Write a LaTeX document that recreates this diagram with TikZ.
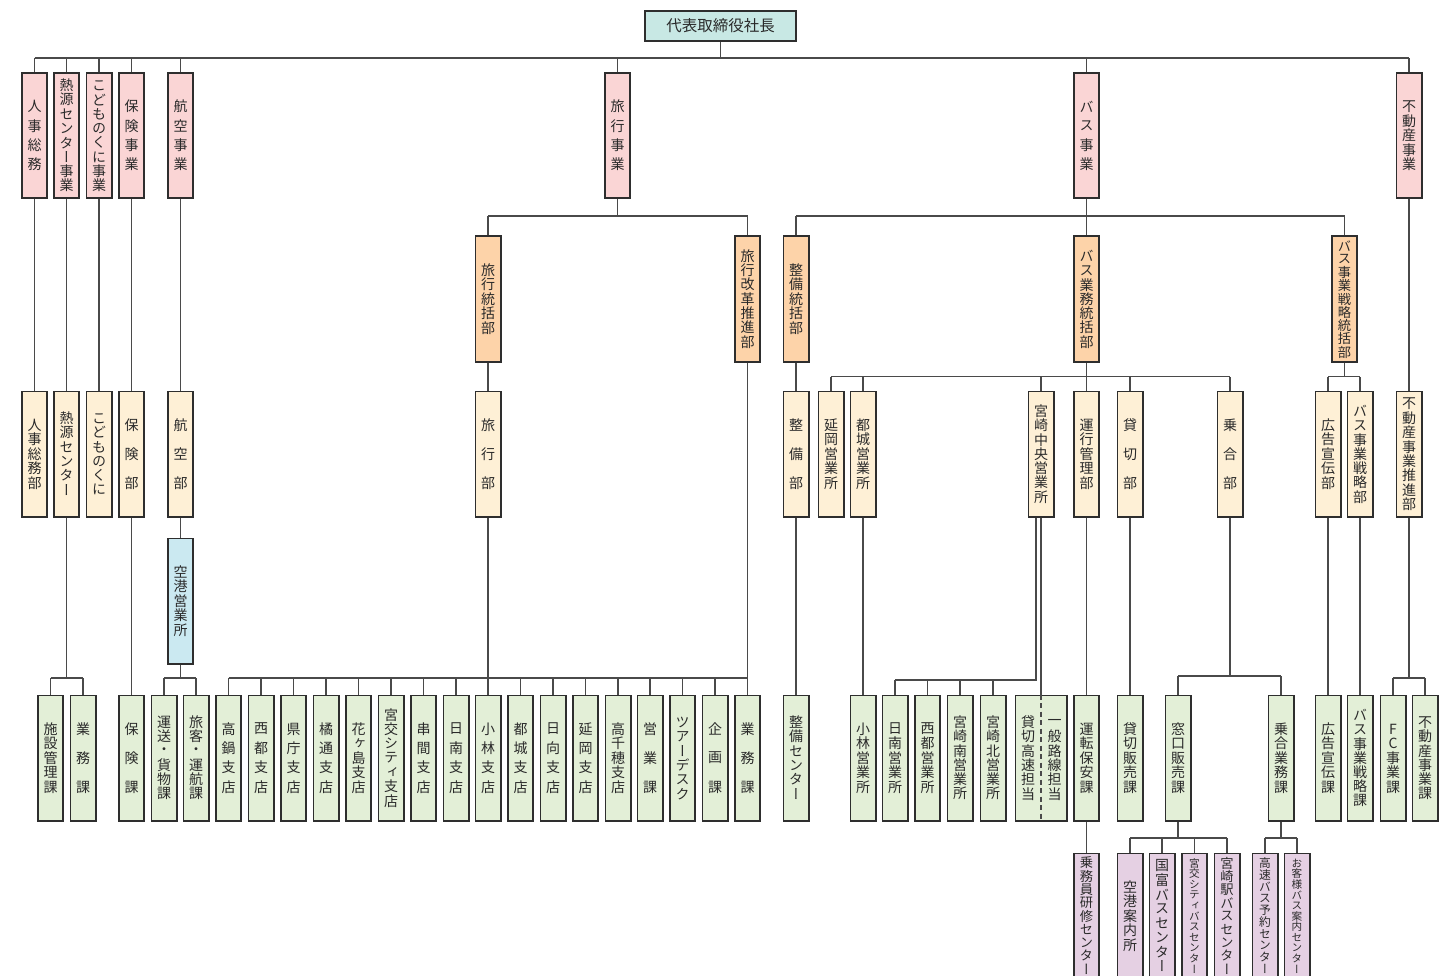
\documentclass[tikz,border=0pt]{standalone}
\usepackage{fontspec}
\newfontfamily\jpv[RawFeature=+vert]{Noto Sans CJK JP}
\newfontfamily\jph{Noto Sans CJK JP}
\definecolor{bdr}{HTML}{2E2E2E}
\definecolor{lnc}{HTML}{4A4A4A}
\definecolor{txt}{HTML}{2A2A2A}
\definecolor{ceoc}{HTML}{C8E8E4}
\definecolor{pinkc}{HTML}{FAD5D5}
\definecolor{orc}{HTML}{FDD3A9}
\definecolor{begc}{HTML}{FEF0D6}
\definecolor{grc}{HTML}{E3EFD7}
\definecolor{blc}{HTML}{CBE9F1}
\definecolor{puc}{HTML}{E5D0E3}
\ExplSyntaxOn
\tl_new:N \l_vt_tl
\int_new:N \l_vt_int
\fp_new:N \l_vt_p_fp
\fp_new:N \l_vt_f_fp
\dim_new:N \l_vt_p_dim
\NewDocumentCommand \vt { m }
  {
    \tl_set:Nx \l_vt_tl {#1}
    \int_set:Nn \l_vt_int { \tl_count:N \l_vt_tl }
    \fp_set:Nn \l_vt_p_fp { min( max(14.3, 58/(\l_vt_int - 1)), 106/(\l_vt_int - 1) ) }
    \fp_set:Nn \l_vt_f_fp { min(14, \l_vt_p_fp) }
    \dim_set:Nn \l_vt_p_dim { \fp_to_dim:N \l_vt_p_fp }
    \jpv \fontsize{\fp_use:N \l_vt_f_fp}{\fp_use:N \l_vt_p_fp}\selectfont
    \vbox:n
      {
        \offinterlineskip
        \tl_map_inline:Nn \l_vt_tl
          {
            \hbox_to_wd:nn {20pt} { \hss \vbox_to_ht:nn { \l_vt_p_dim } { \vss \hbox:n {##1} \vss } \hss }
          }
      }
  }
\ExplSyntaxOff
\begin{document}
\begin{tikzpicture}[x=1pt,y=-1pt,
  bx/.style={draw=bdr, line width=1.6pt, minimum width=25.4pt, minimum height=125.4pt, inner sep=0pt, text=txt},
  pk/.style={bx, fill=pinkc},
  orb/.style={bx, fill=orc},
  bg/.style={bx, fill=begc},
  gr/.style={bx, fill=grc},
  bl/.style={bx, fill=blc},
  pu/.style={bx, fill=puc},
  tx/.style={inner sep=0pt, text=txt},
  ln/.style={draw=lnc, line width=1.3pt}]
\useasboundingbox (0,0) rectangle (1443,976);
\clip (0,0) rectangle (1443,976);

% ---- CEO
\node[draw=bdr, line width=1.6pt, fill=ceoc, minimum width=151.4pt, minimum height=30.4pt,
      inner sep=0pt, text=txt, font=\jph\fontsize{15.5}{18}\selectfont] (ceo) at (720.5,26) {代表取締役社長};

% ---- Row 1
\node[pk] (a1) at (34.5,135.5) {\vt{人事総務}};
\node[pk] (a2) at (66.5,135.5) {\vt{熱源センター事業}};
\node[pk] (a3) at (99,135.5) {\vt{こどものくに事業}};
\node[pk] (a4) at (131.5,135.5) {\vt{保険事業}};
\node[pk] (a5) at (180.5,135.5) {\vt{航空事業}};
\node[pk] (a6) at (617.5,135.5) {\vt{旅行事業}};
\node[pk] (a7) at (1086.5,135.5) {\vt{バス事業}};
\node[pk] (a8) at (1409,135.5) {\vt{不動産事業}};

% ---- Row 2
\node[orb] (b1) at (488,299) {\vt{旅行統括部}};
\node[orb] (b2) at (747.5,299) {\vt{旅行改革推進部}};
\node[orb] (b3) at (796,299) {\vt{整備統括部}};
\node[orb] (b4) at (1086.5,299) {\vt{バス業務統括部}};
\node[orb] (b5) at (1344.5,299) {\vt{バス事業戦略統括部}};

% ---- Row 3
\node[bg] (c1) at (34.5,454) {\vt{人事総務部}};
\node[bg] (c2) at (66.5,454) {\vt{熱源センター}};
\node[bg] (c3) at (99,454) {\vt{こどものくに}};
\node[bg] (c4) at (131.5,454) {\vt{保険部}};
\node[bg] (c5) at (180.5,454) {\vt{航空部}};
\node[bg] (c6) at (488,454) {\vt{旅行部}};
\node[bg] (c7) at (796,454) {\vt{整備部}};
\node[bg] (c8) at (831,454) {\vt{延岡営業所}};
\node[bg] (c9) at (863,454) {\vt{都城営業所}};
\node[bg] (c10) at (1041,454) {\vt{宮崎中央営業所}};
\node[bg] (c11) at (1086.5,454) {\vt{運行管理部}};
\node[bg] (c12) at (1130,454) {\vt{貸切部}};
\node[bg] (c13) at (1230,454) {\vt{乗合部}};
\node[bg] (c14) at (1328,454) {\vt{広告宣伝部}};
\node[bg] (c15) at (1360,454) {\vt{バス事業戦略部}};
\node[bg] (c16) at (1409,454) {\vt{不動産事業推進部}};

% ---- blue
\node[bl] (d1) at (180.5,601) {\vt{空港営業所}};

% ---- Row 4
\node[gr] (e1) at (50.5,758) {\vt{施設管理課}};
\node[gr] (e2) at (83,758) {\vt{業務課}};
\node[gr] (e3) at (131.5,758) {\vt{保険課}};
\node[gr] (e4) at (164,758) {\vt{運送・貨物課}};
\node[gr] (e5) at (196,758) {\vt{旅客・運航課}};
\foreach \x/\s [count=\i] in {228.5/高鍋支店, 261/西都支店, 293.5/県庁支店, 326/橘通支店,
   358.5/花ヶ島支店, 391/宮交シティ支店, 423.5/串間支店, 456/日南支店, 488/小林支店,
   520.5/都城支店, 553/日向支店, 585.5/延岡支店, 618/高千穂支店, 650/営業課,
   682.5/ツアーデスク, 715/企画課, 747.5/業務課}
  \node[gr] (t\i) at (\x,758) {\vt{\s}};
\node[gr] (f1) at (796,758) {\vt{整備センター}};
\node[gr] (g1) at (863,758) {\vt{小林営業所}};
\node[gr] (g2) at (895,758) {\vt{日南営業所}};
\node[gr] (g3) at (927.5,758) {\vt{西都営業所}};
\node[gr] (g4) at (960,758) {\vt{宮崎南営業所}};
\node[gr] (g5) at (993,758) {\vt{宮崎北営業所}};
\node[gr, minimum width=51.4pt] (g6) at (1041,758) {};
\node[tx] at (1028,758) {\vt{貸切高速担当}};
\node[tx] at (1054.5,758) {\vt{一般路線担当}};
\node[gr] (h1) at (1086.5,758) {\vt{運転保安課}};
\node[gr] (h2) at (1130,758) {\vt{貸切販売課}};
\node[gr] (h3) at (1178,758) {\vt{窓口販売課}};
\node[gr] (h4) at (1281,758) {\vt{乗合業務課}};
\node[gr] (h5) at (1328,758) {\vt{広告宣伝課}};
\node[gr] (h6) at (1360,758) {\vt{バス事業戦略課}};
\node[gr] (h7) at (1393,758) {\vt{FC事業課}};
\node[gr] (h8) at (1425,758) {\vt{不動産事業課}};

% ---- Row 5
\node[pu] (p1) at (1086.5,916) {\vt{乗務員研修センター}};
\node[pu] (p2) at (1130,916) {\vt{空港案内所}};
\node[pu] (p3) at (1162,916) {\vt{国富バスセンター}};
\node[pu] (p4) at (1194.5,916) {\vt{宮交シティバスセンター}};
\node[pu] (p5) at (1227,916) {\vt{宮崎駅バスセンター}};
\node[pu] (p6) at (1265,916) {\vt{高速バス予約センター}};
\node[pu] (p7) at (1297,916) {\vt{お客様バス案内センター}};

% ---- junction coordinates
\coordinate (j0) at (720,58);
\coordinate (j1) at (0,216);
\coordinate (j2) at (0,376.5);
\coordinate (j3) at (0,678);
\coordinate (j4) at (0,680);
\coordinate (j5) at (0,676);
\coordinate (j6) at (0,838);

% ---- connectors
\draw[ln] (ceo.south) -- (ceo.south |- j0);
\draw[ln] (a1.north |- j0) -- (a8.north |- j0);
\foreach \n in {a1,a2,a3,a4,a5,a6,a7,a8} \draw[ln] (\n.north) -- (\n.north |- j0);

\draw[ln] (a1.south) -- (c1.north);
\draw[ln] (a2.south) -- (c2.north);
\draw[ln] (a3.south) -- (c3.north);
\draw[ln] (a4.south) -- (c4.north);
\draw[ln] (a5.south) -- (c5.north);
\draw[ln] (a8.south) -- (c16.north);

\draw[ln] (a6.south) -- (a6.south |- j1);
\draw[ln] (b1.north |- j1) -- (b2.north |- j1);
\draw[ln] (b1.north) -- (b1.north |- j1);
\draw[ln] (b2.north) -- (b2.north |- j1);

\draw[ln] (a7.south) -- (b4.north);
\draw[ln] (b3.north |- j1) -- (b5.north |- j1);
\draw[ln] (b3.north) -- (b3.north |- j1);
\draw[ln] (b5.north) -- (b5.north |- j1);

\draw[ln] (b1.south) -- (c6.north);
\draw[ln] (b3.south) -- (c7.north);
\draw[ln] (b2.south) -- (t17.north);

\draw[ln] (b4.south) -- (b4.south |- j2);
\draw[ln] (c8.north |- j2) -- (c13.north |- j2);
\foreach \n in {c8,c9,c10,c11,c12,c13} \draw[ln] (\n.north) -- (\n.north |- j2);
\draw[ln] (b5.south) -- (b5.south |- j2);
\draw[ln] (c14.north |- j2) -- (c15.north |- j2);
\foreach \n in {c14,c15} \draw[ln] (\n.north) -- (\n.north |- j2);

% left block
\draw[ln] (c2.south) -- (c2.south |- j3);
\draw[ln] (e1.north |- j3) -- (e2.north |- j3);
\foreach \n in {e1,e2} \draw[ln] (\n.north) -- (\n.north |- j3);
\draw[ln] (c4.south) -- (e3.north);
\draw[ln] (c5.south) -- (d1.north);
\draw[ln] (d1.south) -- (d1.south |- j3);
\draw[ln] (e4.north |- j3) -- (e5.north |- j3);
\foreach \n in {e4,e5} \draw[ln] (\n.north) -- (\n.north |- j3);

% travel
\draw[ln] (c6.south) -- (c6.south |- j3);
\draw[ln] (t1.north |- j3) -- (t17.north |- j3);
\foreach \i in {1,...,16} \draw[ln] (t\i.north) -- (t\i.north |- j3);

% maintenance / bus
\draw[ln] (c7.south) -- (f1.north);
\draw[ln] (c9.south) -- (g1.north);
\draw[ln] ([xshift=-5pt]c10.south) |- (g2.north |- j4);
\foreach \n in {g2,g3,g4,g5} \draw[ln] (\n.north) -- (\n.north |- j4);
\draw[ln] (c10.south) -- (g6.north);
\draw[ln, dash pattern=on 5pt off 3.5pt] (g6.north) -- (g6.south);
\draw[ln] (c11.south) -- (h1.north);
\draw[ln] (h1.south) -- (p1.north);
\draw[ln] (c12.south) -- (h2.north);
\draw[ln] (c13.south) -- (c13.south |- j5);
\draw[ln] (h3.north |- j5) -- (h4.north |- j5);
\foreach \n in {h3,h4} \draw[ln] (\n.north) -- (\n.north |- j5);
\draw[ln] (c14.south) -- (h5.north);
\draw[ln] (c15.south) -- (h6.north);
\draw[ln] (c16.south) -- (c16.south |- j3);
\draw[ln] (h7.north |- j3) -- (h8.north |- j3);
\foreach \n in {h7,h8} \draw[ln] (\n.north) -- (\n.north |- j3);

% row 5
\draw[ln] (h3.south) -- (h3.south |- j6);
\draw[ln] (p2.north |- j6) -- (p5.north |- j6);
\foreach \n in {p2,p3,p4,p5} \draw[ln] (\n.north) -- (\n.north |- j6);
\draw[ln] (h4.south) -- (h4.south |- j6);
\draw[ln] (p6.north |- j6) -- (p7.north |- j6);
\foreach \n in {p6,p7} \draw[ln] (\n.north) -- (\n.north |- j6);
\end{tikzpicture}
\end{document}
